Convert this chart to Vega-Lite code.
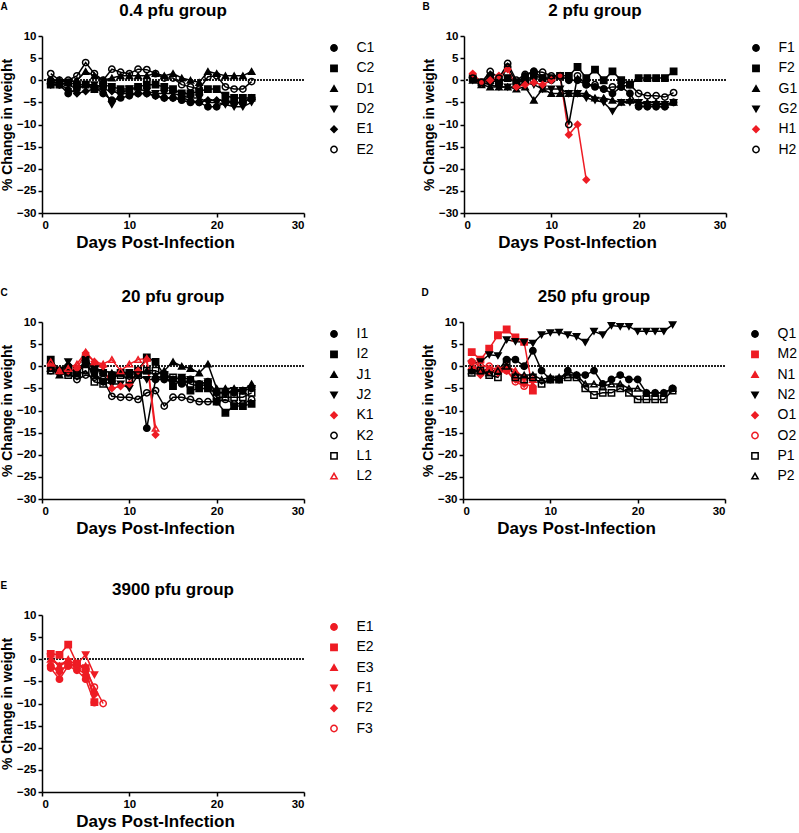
{
"$schema":"https://vega.github.io/schema/vega-lite/v6.json",
"padding":{"left":0,"top":2,"right":0,"bottom":3},
"config":{
"font":"Liberation Sans",
"view":{"stroke":null},
"axis":{"grid":false,"domainColor":"black","domainWidth":1.5,"tickColor":"black","tickWidth":1.5,"tickSize":4,"labelColor":"black","labelFontSize":11.5,"labelFontWeight":"bold","labelFont":"Liberation Sans","titleFont":"Liberation Sans","titleFontWeight":"bold","titleColor":"black","labelPadding":2,"labelOverlap":false},
"axisY":{"titleFontSize":14,"titlePadding":2},
"axisX":{"titleFontSize":17,"titlePadding":4,"titleX":113},
"legend":{"labelFontSize":14,"labelFont":"Liberation Sans","labelColor":"black","symbolSize":40,"rowPadding":6.3,"offset":18,"padding":5,"labelOffset":15.5,"symbolStrokeWidth":1.5},
"title":{"font":"Liberation Sans","fontSize":17,"fontWeight":"bold","color":"black","offset":10}
},
"datasets":{
"A":[
{"s":"C1","d":1,"v":0},{"s":"C1","d":2,"v":-1},{"s":"C1","d":3,"v":-3},{"s":"C1","d":4,"v":-2},{"s":"C1","d":5,"v":-1},{"s":"C1","d":6,"v":-1.5},{"s":"C1","d":7,"v":-3},{"s":"C1","d":8,"v":-4.5},{"s":"C1","d":9,"v":-4},{"s":"C1","d":10,"v":-3.5},{"s":"C1","d":11,"v":-3},{"s":"C1","d":12,"v":-3},{"s":"C1","d":13,"v":-3.5},{"s":"C1","d":14,"v":-4},{"s":"C1","d":15,"v":-4},{"s":"C1","d":16,"v":-4.5},{"s":"C1","d":17,"v":-5},{"s":"C1","d":18,"v":-5},{"s":"C1","d":19,"v":-6},{"s":"C1","d":20,"v":-6},{"s":"C1","d":21,"v":-5},{"s":"C1","d":22,"v":-5},{"s":"C1","d":23,"v":-5},{"s":"C1","d":24,"v":-4},
{"s":"C2","d":1,"v":-1},{"s":"C2","d":2,"v":-1},{"s":"C2","d":3,"v":-0.5},{"s":"C2","d":4,"v":-1},{"s":"C2","d":5,"v":-1},{"s":"C2","d":6,"v":-2},{"s":"C2","d":7,"v":-1},{"s":"C2","d":8,"v":-1.5},{"s":"C2","d":9,"v":-2},{"s":"C2","d":10,"v":-2},{"s":"C2","d":11,"v":-1.5},{"s":"C2","d":12,"v":-1},{"s":"C2","d":13,"v":-1},{"s":"C2","d":14,"v":-1.5},{"s":"C2","d":15,"v":-2},{"s":"C2","d":16,"v":-3},{"s":"C2","d":17,"v":-3},{"s":"C2","d":18,"v":-2.5},{"s":"C2","d":19,"v":-2},{"s":"C2","d":20,"v":-2},{"s":"C2","d":21,"v":-3.5},{"s":"C2","d":22,"v":-4},{"s":"C2","d":23,"v":-4},{"s":"C2","d":24,"v":-4},
{"s":"D1","d":1,"v":0},{"s":"D1","d":2,"v":0},{"s":"D1","d":3,"v":-0.5},{"s":"D1","d":4,"v":0},{"s":"D1","d":5,"v":2},{"s":"D1","d":6,"v":1},{"s":"D1","d":7,"v":0},{"s":"D1","d":8,"v":0.5},{"s":"D1","d":9,"v":1},{"s":"D1","d":10,"v":1},{"s":"D1","d":11,"v":1},{"s":"D1","d":12,"v":1},{"s":"D1","d":13,"v":1.5},{"s":"D1","d":14,"v":1},{"s":"D1","d":15,"v":1.5},{"s":"D1","d":16,"v":0.5},{"s":"D1","d":17,"v":0},{"s":"D1","d":18,"v":-0.5},{"s":"D1","d":19,"v":2},{"s":"D1","d":20,"v":1.5},{"s":"D1","d":21,"v":1},{"s":"D1","d":22,"v":1},{"s":"D1","d":23,"v":1},{"s":"D1","d":24,"v":2},
{"s":"D2","d":1,"v":-0.5},{"s":"D2","d":2,"v":-0.5},{"s":"D2","d":3,"v":-1},{"s":"D2","d":4,"v":-2},{"s":"D2","d":5,"v":-1},{"s":"D2","d":6,"v":-1},{"s":"D2","d":7,"v":-1.5},{"s":"D2","d":8,"v":-5.5},{"s":"D2","d":9,"v":-3},{"s":"D2","d":10,"v":-2},{"s":"D2","d":11,"v":-2},{"s":"D2","d":12,"v":-2.5},{"s":"D2","d":13,"v":-3},{"s":"D2","d":14,"v":-3},{"s":"D2","d":15,"v":-3},{"s":"D2","d":16,"v":-3.5},{"s":"D2","d":17,"v":-4},{"s":"D2","d":18,"v":-4},{"s":"D2","d":19,"v":-5},{"s":"D2","d":20,"v":-5},{"s":"D2","d":21,"v":-5.5},{"s":"D2","d":22,"v":-6},{"s":"D2","d":23,"v":-6},{"s":"D2","d":24,"v":-5},
{"s":"E1","d":1,"v":-1},{"s":"E1","d":2,"v":-1},{"s":"E1","d":3,"v":-2},{"s":"E1","d":4,"v":-3},{"s":"E1","d":5,"v":-2.5},{"s":"E1","d":6,"v":-2},{"s":"E1","d":7,"v":-2},{"s":"E1","d":8,"v":-2.5},{"s":"E1","d":9,"v":-3},{"s":"E1","d":10,"v":-3},{"s":"E1","d":11,"v":-3},{"s":"E1","d":12,"v":-3},{"s":"E1","d":13,"v":-3.5},{"s":"E1","d":14,"v":-4},{"s":"E1","d":15,"v":-4},{"s":"E1","d":16,"v":-4},{"s":"E1","d":17,"v":-4.5},{"s":"E1","d":18,"v":-5},{"s":"E1","d":19,"v":-4.5},{"s":"E1","d":20,"v":-4.5},{"s":"E1","d":21,"v":-4.5},{"s":"E1","d":22,"v":-5},{"s":"E1","d":23,"v":-5},{"s":"E1","d":24,"v":-4},
{"s":"E2","d":1,"v":1.5},{"s":"E2","d":2,"v":0},{"s":"E2","d":3,"v":0},{"s":"E2","d":4,"v":1},{"s":"E2","d":5,"v":4},{"s":"E2","d":6,"v":1.5},{"s":"E2","d":7,"v":0},{"s":"E2","d":8,"v":2.5},{"s":"E2","d":9,"v":1.8},{"s":"E2","d":10,"v":1.5},{"s":"E2","d":11,"v":2.5},{"s":"E2","d":12,"v":2.4},{"s":"E2","d":13,"v":1.5},{"s":"E2","d":14,"v":0.5},{"s":"E2","d":15,"v":0.5},{"s":"E2","d":16,"v":-1},{"s":"E2","d":17,"v":-1.5},{"s":"E2","d":18,"v":-2},{"s":"E2","d":19,"v":0.8},{"s":"E2","d":20,"v":1},{"s":"E2","d":21,"v":-1.5},{"s":"E2","d":22,"v":-2},{"s":"E2","d":23,"v":-2},{"s":"E2","d":24,"v":-0.3}
],
"B":[
{"s":"F1","d":1,"v":0.5},{"s":"F1","d":2,"v":-0.5},{"s":"F1","d":3,"v":1},{"s":"F1","d":4,"v":-0.5},{"s":"F1","d":5,"v":3},{"s":"F1","d":6,"v":-0.5},{"s":"F1","d":7,"v":1},{"s":"F1","d":8,"v":2},{"s":"F1","d":9,"v":0.5},{"s":"F1","d":10,"v":0},{"s":"F1","d":11,"v":1},{"s":"F1","d":12,"v":0},{"s":"F1","d":13,"v":0},{"s":"F1","d":14,"v":-1},{"s":"F1","d":15,"v":-1.5},{"s":"F1","d":16,"v":-2},{"s":"F1","d":17,"v":-3},{"s":"F1","d":18,"v":-1.5},{"s":"F1","d":19,"v":-3},{"s":"F1","d":20,"v":-6},{"s":"F1","d":21,"v":-6},{"s":"F1","d":22,"v":-6},{"s":"F1","d":23,"v":-6},{"s":"F1","d":24,"v":-5},
{"s":"F2","d":1,"v":0.5},{"s":"F2","d":2,"v":-0.5},{"s":"F2","d":3,"v":0},{"s":"F2","d":4,"v":-0.5},{"s":"F2","d":5,"v":0.5},{"s":"F2","d":6,"v":-0.5},{"s":"F2","d":7,"v":0},{"s":"F2","d":8,"v":1},{"s":"F2","d":9,"v":0.5},{"s":"F2","d":10,"v":0.5},{"s":"F2","d":11,"v":1},{"s":"F2","d":12,"v":1},{"s":"F2","d":13,"v":3},{"s":"F2","d":14,"v":0.5},{"s":"F2","d":15,"v":2.4},{"s":"F2","d":16,"v":0},{"s":"F2","d":17,"v":2},{"s":"F2","d":18,"v":0},{"s":"F2","d":19,"v":-1},{"s":"F2","d":20,"v":0.5},{"s":"F2","d":21,"v":0.5},{"s":"F2","d":22,"v":0.5},{"s":"F2","d":23,"v":0.5},{"s":"F2","d":24,"v":2},
{"s":"G1","d":1,"v":0},{"s":"G1","d":2,"v":-1},{"s":"G1","d":3,"v":-1.5},{"s":"G1","d":4,"v":-1.5},{"s":"G1","d":5,"v":-1.5},{"s":"G1","d":6,"v":-2},{"s":"G1","d":7,"v":-1.5},{"s":"G1","d":8,"v":-4.5},{"s":"G1","d":9,"v":-2},{"s":"G1","d":10,"v":-3},{"s":"G1","d":11,"v":-3},{"s":"G1","d":12,"v":-3},{"s":"G1","d":13,"v":-3},{"s":"G1","d":14,"v":-3},{"s":"G1","d":15,"v":-4},{"s":"G1","d":16,"v":-4},{"s":"G1","d":17,"v":-4.5},{"s":"G1","d":18,"v":-5},{"s":"G1","d":19,"v":-4.5},{"s":"G1","d":20,"v":-5},{"s":"G1","d":21,"v":-5},{"s":"G1","d":22,"v":-5},{"s":"G1","d":23,"v":-5.5},{"s":"G1","d":24,"v":-5},
{"s":"G2","d":1,"v":0},{"s":"G2","d":2,"v":-0.5},{"s":"G2","d":3,"v":-1},{"s":"G2","d":4,"v":-1.5},{"s":"G2","d":5,"v":-1.5},{"s":"G2","d":6,"v":-1.5},{"s":"G2","d":7,"v":-0.5},{"s":"G2","d":8,"v":-1},{"s":"G2","d":9,"v":-2},{"s":"G2","d":10,"v":-2},{"s":"G2","d":11,"v":-2},{"s":"G2","d":12,"v":-3},{"s":"G2","d":13,"v":-3},{"s":"G2","d":14,"v":-4},{"s":"G2","d":15,"v":-4.5},{"s":"G2","d":16,"v":-5},{"s":"G2","d":17,"v":-7},{"s":"G2","d":18,"v":-5},{"s":"G2","d":19,"v":-5},{"s":"G2","d":20,"v":-5},{"s":"G2","d":21,"v":-5.5},{"s":"G2","d":22,"v":-5.5},{"s":"G2","d":23,"v":-5.5},{"s":"G2","d":24,"v":-5},
{"s":"H1","d":1,"v":1.5},{"s":"H1","d":2,"v":-0.5},{"s":"H1","d":3,"v":0},{"s":"H1","d":4,"v":1},{"s":"H1","d":5,"v":2.5},{"s":"H1","d":6,"v":-1.5},{"s":"H1","d":7,"v":-1},{"s":"H1","d":8,"v":-0.5},{"s":"H1","d":9,"v":-1},{"s":"H1","d":10,"v":0},{"s":"H1","d":11,"v":1},{"s":"H1","d":12,"v":-12.3},{"s":"H1","d":13,"v":-10},{"s":"H1","d":14,"v":-22.5},
{"s":"H2","d":1,"v":0.5},{"s":"H2","d":2,"v":-0.5},{"s":"H2","d":3,"v":2},{"s":"H2","d":4,"v":0.5},{"s":"H2","d":5,"v":3.8},{"s":"H2","d":6,"v":0},{"s":"H2","d":7,"v":1.3},{"s":"H2","d":8,"v":2},{"s":"H2","d":9,"v":1.8},{"s":"H2","d":10,"v":1},{"s":"H2","d":11,"v":1},{"s":"H2","d":12,"v":-10},{"s":"H2","d":13,"v":1},{"s":"H2","d":14,"v":-1},{"s":"H2","d":15,"v":-1},{"s":"H2","d":16,"v":-2},{"s":"H2","d":17,"v":-1.5},{"s":"H2","d":18,"v":-1.5},{"s":"H2","d":19,"v":-1},{"s":"H2","d":20,"v":-3},{"s":"H2","d":21,"v":-3.5},{"s":"H2","d":22,"v":-3.5},{"s":"H2","d":23,"v":-3.8},{"s":"H2","d":24,"v":-2.8}
],
"C":[
{"s":"I1","d":1,"v":-0.5},{"s":"I1","d":2,"v":-1.5},{"s":"I1","d":3,"v":0},{"s":"I1","d":4,"v":-1.5},{"s":"I1","d":5,"v":0.5},{"s":"I1","d":6,"v":-1.5},{"s":"I1","d":7,"v":-3.5},{"s":"I1","d":8,"v":-2},{"s":"I1","d":9,"v":-1.5},{"s":"I1","d":10,"v":-1.5},{"s":"I1","d":11,"v":-1},{"s":"I1","d":12,"v":-14},{"s":"I1","d":13,"v":-3},{"s":"I1","d":14,"v":-3},{"s":"I1","d":15,"v":-3},{"s":"I1","d":16,"v":-4},{"s":"I1","d":17,"v":-3},{"s":"I1","d":18,"v":-4},{"s":"I1","d":19,"v":-3.5},{"s":"I1","d":20,"v":-6},{"s":"I1","d":21,"v":-6},{"s":"I1","d":22,"v":-6},{"s":"I1","d":23,"v":-5.5},{"s":"I1","d":24,"v":-5},
{"s":"I2","d":1,"v":1.5},{"s":"I2","d":2,"v":-1},{"s":"I2","d":3,"v":-0.5},{"s":"I2","d":4,"v":-1.5},{"s":"I2","d":5,"v":1.5},{"s":"I2","d":6,"v":-0.5},{"s":"I2","d":7,"v":-1.5},{"s":"I2","d":8,"v":-3},{"s":"I2","d":9,"v":-1.5},{"s":"I2","d":10,"v":-1.5},{"s":"I2","d":11,"v":-1},{"s":"I2","d":12,"v":2},{"s":"I2","d":13,"v":1},{"s":"I2","d":14,"v":-2},{"s":"I2","d":15,"v":-4.5},{"s":"I2","d":16,"v":-3},{"s":"I2","d":17,"v":-5.5},{"s":"I2","d":18,"v":-5},{"s":"I2","d":19,"v":-5},{"s":"I2","d":20,"v":-8},{"s":"I2","d":21,"v":-10.5},{"s":"I2","d":22,"v":-9},{"s":"I2","d":23,"v":-9},{"s":"I2","d":24,"v":-8.5},
{"s":"J1","d":1,"v":-0.5},{"s":"J1","d":2,"v":-2},{"s":"J1","d":3,"v":-1.5},{"s":"J1","d":4,"v":-1.5},{"s":"J1","d":5,"v":1.5},{"s":"J1","d":6,"v":-0.5},{"s":"J1","d":7,"v":-1},{"s":"J1","d":8,"v":-1.5},{"s":"J1","d":9,"v":-1.5},{"s":"J1","d":10,"v":-2},{"s":"J1","d":11,"v":-1.5},{"s":"J1","d":12,"v":-1},{"s":"J1","d":13,"v":-2},{"s":"J1","d":14,"v":-1},{"s":"J1","d":15,"v":1},{"s":"J1","d":16,"v":0},{"s":"J1","d":17,"v":-0.5},{"s":"J1","d":18,"v":-1.5},{"s":"J1","d":19,"v":0.5},{"s":"J1","d":20,"v":-5},{"s":"J1","d":21,"v":-5},{"s":"J1","d":22,"v":-5},{"s":"J1","d":23,"v":-5.5},{"s":"J1","d":24,"v":-4},
{"s":"J2","d":1,"v":0},{"s":"J2","d":2,"v":-1.5},{"s":"J2","d":3,"v":1},{"s":"J2","d":4,"v":-1},{"s":"J2","d":5,"v":0.5},{"s":"J2","d":6,"v":-2},{"s":"J2","d":7,"v":-3.5},{"s":"J2","d":8,"v":-4},{"s":"J2","d":9,"v":-4},{"s":"J2","d":10,"v":-5},{"s":"J2","d":11,"v":-2},{"s":"J2","d":12,"v":-3},{"s":"J2","d":13,"v":-3},{"s":"J2","d":14,"v":-2},{"s":"J2","d":15,"v":-3},{"s":"J2","d":16,"v":-2.5},{"s":"J2","d":17,"v":-3},{"s":"J2","d":18,"v":-4},{"s":"J2","d":19,"v":-3.5},{"s":"J2","d":20,"v":-6},{"s":"J2","d":21,"v":-6},{"s":"J2","d":22,"v":-5.5},{"s":"J2","d":23,"v":-5.5},{"s":"J2","d":24,"v":-5},
{"s":"K1","d":1,"v":0},{"s":"K1","d":2,"v":-1},{"s":"K1","d":3,"v":-1},{"s":"K1","d":4,"v":-0.5},{"s":"K1","d":5,"v":3},{"s":"K1","d":6,"v":1},{"s":"K1","d":7,"v":0},{"s":"K1","d":8,"v":-5},{"s":"K1","d":9,"v":-4.5},{"s":"K1","d":10,"v":-4},{"s":"K1","d":11,"v":-1},{"s":"K1","d":12,"v":1.5},{"s":"K1","d":13,"v":-15.5},
{"s":"K2","d":1,"v":-1},{"s":"K2","d":2,"v":-1},{"s":"K2","d":3,"v":-1.5},{"s":"K2","d":4,"v":-3},{"s":"K2","d":5,"v":-2},{"s":"K2","d":6,"v":-2.5},{"s":"K2","d":7,"v":-3},{"s":"K2","d":8,"v":-6.8},{"s":"K2","d":9,"v":-7},{"s":"K2","d":10,"v":-7},{"s":"K2","d":11,"v":-7.5},{"s":"K2","d":12,"v":-6},{"s":"K2","d":13,"v":-5.5},{"s":"K2","d":14,"v":-9},{"s":"K2","d":15,"v":-7},{"s":"K2","d":16,"v":-7},{"s":"K2","d":17,"v":-7.5},{"s":"K2","d":18,"v":-8},{"s":"K2","d":19,"v":-8},{"s":"K2","d":20,"v":-8},{"s":"K2","d":21,"v":-7.5},{"s":"K2","d":22,"v":-8.5},{"s":"K2","d":23,"v":-8.5},{"s":"K2","d":24,"v":-7.5},
{"s":"L1","d":1,"v":-1},{"s":"L1","d":2,"v":-1},{"s":"L1","d":3,"v":-2},{"s":"L1","d":4,"v":-2},{"s":"L1","d":5,"v":-1},{"s":"L1","d":6,"v":-3.5},{"s":"L1","d":7,"v":-4},{"s":"L1","d":8,"v":-2},{"s":"L1","d":9,"v":-2},{"s":"L1","d":10,"v":-3},{"s":"L1","d":11,"v":-2},{"s":"L1","d":12,"v":-1},{"s":"L1","d":13,"v":-1},{"s":"L1","d":14,"v":-2},{"s":"L1","d":15,"v":-2.5},{"s":"L1","d":16,"v":-3},{"s":"L1","d":17,"v":-4},{"s":"L1","d":18,"v":-4.5},{"s":"L1","d":19,"v":-4},{"s":"L1","d":20,"v":-7},{"s":"L1","d":21,"v":-7},{"s":"L1","d":22,"v":-7},{"s":"L1","d":23,"v":-7},{"s":"L1","d":24,"v":-6},
{"s":"L2","d":1,"v":1},{"s":"L2","d":2,"v":-1},{"s":"L2","d":3,"v":-0.5},{"s":"L2","d":4,"v":0.5},{"s":"L2","d":5,"v":3.2},{"s":"L2","d":6,"v":1},{"s":"L2","d":7,"v":0.5},{"s":"L2","d":8,"v":1.5},{"s":"L2","d":9,"v":-1},{"s":"L2","d":10,"v":0.5},{"s":"L2","d":11,"v":1.5},{"s":"L2","d":12,"v":1.8},{"s":"L2","d":13,"v":-14}
],
"D":[
{"s":"Q1","d":1,"v":-1},{"s":"Q1","d":2,"v":-1},{"s":"Q1","d":3,"v":-1},{"s":"Q1","d":4,"v":-1},{"s":"Q1","d":5,"v":1.5},{"s":"Q1","d":6,"v":1.5},{"s":"Q1","d":7,"v":0},{"s":"Q1","d":8,"v":3.5},{"s":"Q1","d":9,"v":-1},{"s":"Q1","d":10,"v":-3},{"s":"Q1","d":11,"v":-3},{"s":"Q1","d":12,"v":-1},{"s":"Q1","d":13,"v":-2},{"s":"Q1","d":14,"v":-2},{"s":"Q1","d":15,"v":-1},{"s":"Q1","d":16,"v":-4},{"s":"Q1","d":17,"v":-3},{"s":"Q1","d":18,"v":-2},{"s":"Q1","d":19,"v":-3},{"s":"Q1","d":20,"v":-3},{"s":"Q1","d":21,"v":-6},{"s":"Q1","d":22,"v":-6},{"s":"Q1","d":23,"v":-6},{"s":"Q1","d":24,"v":-5},
{"s":"M2","d":1,"v":3.2},{"s":"M2","d":2,"v":1.5},{"s":"M2","d":3,"v":4},{"s":"M2","d":4,"v":7},{"s":"M2","d":5,"v":8.3},{"s":"M2","d":6,"v":6.5},{"s":"M2","d":7,"v":5.5},{"s":"M2","d":8,"v":-5.5},
{"s":"N1","d":1,"v":0},{"s":"N1","d":2,"v":-1},{"s":"N1","d":3,"v":-0.5},{"s":"N1","d":4,"v":-0.5},{"s":"N1","d":5,"v":0},{"s":"N1","d":6,"v":-1},{"s":"N1","d":7,"v":-2.5},{"s":"N1","d":8,"v":-3},
{"s":"N2","d":1,"v":0.5},{"s":"N2","d":2,"v":1},{"s":"N2","d":3,"v":2.6},{"s":"N2","d":4,"v":2.4},{"s":"N2","d":5,"v":6},{"s":"N2","d":6,"v":5.6},{"s":"N2","d":7,"v":5.4},{"s":"N2","d":8,"v":5.2},{"s":"N2","d":9,"v":7.1},{"s":"N2","d":10,"v":7.6},{"s":"N2","d":11,"v":7.7},{"s":"N2","d":12,"v":7.1},{"s":"N2","d":13,"v":6.7},{"s":"N2","d":14,"v":5.4},{"s":"N2","d":15,"v":7.9},{"s":"N2","d":16,"v":7.1},{"s":"N2","d":17,"v":9.2},{"s":"N2","d":18,"v":9},{"s":"N2","d":19,"v":9},{"s":"N2","d":20,"v":7.9},{"s":"N2","d":21,"v":7.9},{"s":"N2","d":22,"v":7.9},{"s":"N2","d":23,"v":7.9},{"s":"N2","d":24,"v":9.4},
{"s":"O1","d":1,"v":1},{"s":"O1","d":2,"v":-2},{"s":"O1","d":3,"v":-1},{"s":"O1","d":4,"v":-1.5},{"s":"O1","d":5,"v":-1},{"s":"O1","d":6,"v":-3},{"s":"O1","d":7,"v":-4},{"s":"O1","d":8,"v":-4.5},
{"s":"O2","d":1,"v":1},{"s":"O2","d":2,"v":0},{"s":"O2","d":3,"v":0},{"s":"O2","d":4,"v":-1},{"s":"O2","d":5,"v":-1},{"s":"O2","d":6,"v":-3.5},{"s":"O2","d":7,"v":-4.5},
{"s":"P1","d":1,"v":-1.5},{"s":"P1","d":2,"v":-1},{"s":"P1","d":3,"v":-2},{"s":"P1","d":4,"v":-2.5},{"s":"P1","d":5,"v":1},{"s":"P1","d":6,"v":-2.5},{"s":"P1","d":7,"v":-3},{"s":"P1","d":8,"v":-2.5},{"s":"P1","d":9,"v":-4},{"s":"P1","d":10,"v":-3},{"s":"P1","d":11,"v":-3},{"s":"P1","d":12,"v":-2.5},{"s":"P1","d":13,"v":-2.5},{"s":"P1","d":14,"v":-5},{"s":"P1","d":15,"v":-6.5},{"s":"P1","d":16,"v":-6},{"s":"P1","d":17,"v":-6},{"s":"P1","d":18,"v":-5},{"s":"P1","d":19,"v":-6},{"s":"P1","d":20,"v":-7.5},{"s":"P1","d":21,"v":-7.5},{"s":"P1","d":22,"v":-7.5},{"s":"P1","d":23,"v":-7.5},{"s":"P1","d":24,"v":-5.5},
{"s":"P2","d":1,"v":-1},{"s":"P2","d":2,"v":-1},{"s":"P2","d":3,"v":-1.5},{"s":"P2","d":4,"v":-1},{"s":"P2","d":5,"v":0},{"s":"P2","d":6,"v":-2},{"s":"P2","d":7,"v":-2},{"s":"P2","d":8,"v":-2},{"s":"P2","d":9,"v":-3},{"s":"P2","d":10,"v":-2.5},{"s":"P2","d":11,"v":-2.5},{"s":"P2","d":12,"v":-2},{"s":"P2","d":13,"v":-2},{"s":"P2","d":14,"v":-4},{"s":"P2","d":15,"v":-4},{"s":"P2","d":16,"v":-4.5},{"s":"P2","d":17,"v":-4},{"s":"P2","d":18,"v":-4},{"s":"P2","d":19,"v":-5},{"s":"P2","d":20,"v":-5},{"s":"P2","d":21,"v":-6},{"s":"P2","d":22,"v":-6},{"s":"P2","d":23,"v":-6},{"s":"P2","d":24,"v":-5}
],
"E":[
{"s":"E1","d":1,"v":-2},{"s":"E1","d":2,"v":-4.5},{"s":"E1","d":3,"v":-1.5},{"s":"E1","d":4,"v":-2.5},{"s":"E1","d":5,"v":-4.5},{"s":"E1","d":6,"v":-9.8},
{"s":"E2","d":1,"v":1.2},{"s":"E2","d":2,"v":1},{"s":"E2","d":3,"v":3.3},{"s":"E2","d":4,"v":-1},{"s":"E2","d":5,"v":-2},{"s":"E2","d":6,"v":-9.7},
{"s":"E3","d":1,"v":0},{"s":"E3","d":2,"v":-1.5},{"s":"E3","d":3,"v":0},{"s":"E3","d":4,"v":-1.5},{"s":"E3","d":5,"v":-1.5},{"s":"E3","d":6,"v":-7},
{"s":"F1","d":1,"v":0.5},{"s":"F1","d":2,"v":-1.5},{"s":"F1","d":3,"v":-0.5},{"s":"F1","d":4,"v":-1},{"s":"F1","d":5,"v":1},{"s":"F1","d":6,"v":-3.5},
{"s":"F2","d":1,"v":-1.5},{"s":"F2","d":2,"v":-3},{"s":"F2","d":3,"v":-1},{"s":"F2","d":4,"v":-2},{"s":"F2","d":5,"v":-3.5},{"s":"F2","d":6,"v":-8},
{"s":"F3","d":1,"v":-1.5},{"s":"F3","d":2,"v":-2.5},{"s":"F3","d":3,"v":-1.5},{"s":"F3","d":4,"v":-1},{"s":"F3","d":5,"v":-2.5},{"s":"F3","d":6,"v":-6.3},{"s":"F3","d":7,"v":-10}
]
},
"resolve":{"scale":{"stroke":"independent","fill":"independent","shape":"independent"},"legend":{"stroke":"independent","fill":"independent","shape":"independent"}},
"spacing":37,
"vconcat":[
{"hconcat":[
{"title":{"text":"A","anchor":"start","frame":"bounds","fontSize":10,"offset":0,"dy":10},"resolve":{"scale":{"stroke":"independent","fill":"independent","shape":"independent"}},
"vconcat":[{"data":{"name":"A"},"width":262,"height":177,"title":"0.4 pfu group",
"layer":[
{"mark":{"type":"rule","strokeDash":[1.5,1.5],"strokeWidth":0.7,"color":"#222222"},"encoding":{"y":{"datum":0,"type":"quantitative","title":"% Change in weight","scale":{"domain":[-30,10],"nice":false},"axis":{"values":[-30,-25,-20,-15,-10,-5,0,5,10]}}}},
{"mark":{"type":"line","strokeWidth":1.5},"encoding":{"x":{"field":"d","type":"quantitative","title":"Days Post-Infection","scale":{"domain":[0,30],"nice":false},"axis":{"values":[0,10,20,30]}},"y":{"field":"v","type":"quantitative","title":"% Change in weight","scale":{"domain":[-30,10],"nice":false},"axis":{"values":[-30,-25,-20,-15,-10,-5,0,5,10]}},"stroke":{"field":"s","type":"nominal","title":null,"scale":{"domain":["C1","C2","D1","D2","E1","E2"],"range":["#000000","#000000","#000000","#000000","#000000","#000000"]}}}},
{"mark":{"type":"point","size":40,"strokeWidth":1.5,"opacity":1},"encoding":{"x":{"field":"d","type":"quantitative","title":"Days Post-Infection","axis":{"values":[0,10,20,30]}},"y":{"field":"v","type":"quantitative","title":"% Change in weight","axis":{"values":[-30,-25,-20,-15,-10,-5,0,5,10]}},"stroke":{"field":"s","type":"nominal","title":null,"scale":{"domain":["C1","C2","D1","D2","E1","E2"],"range":["#000000","#000000","#000000","#000000","#000000","#000000"]}},"fill":{"field":"s","type":"nominal","title":null,"scale":{"domain":["C1","C2","D1","D2","E1","E2"],"range":["#000000","#000000","#000000","#000000","#000000","transparent"]},"legend":{"encode":{"symbols":{"update":{"shape":{"signal":"['M-3,0H3M1,0A1,1,0,1,1,-1,0A1,1,0,1,1,1,0Z','M-3,0H3M-1,-1H1V1H-1Z','M-3,0H3M0,-1.15L1.15,0.85H-1.15Z','M-3,0H3M0,1.15L1.15,-0.85H-1.15Z','M-3,0H3M0,-1.25L1.25,0L0,1.25L-1.25,0Z','M-3,0H3M1,0A1,1,0,1,1,-1,0A1,1,0,1,1,1,0Z'][indexof(['C1','C2','D1','D2','E1','E2'],datum.value)]"}}}}}},"shape":{"field":"s","type":"nominal","title":null,"scale":{"domain":["C1","C2","D1","D2","E1","E2"],"range":["circle","square","triangle-up","triangle-down","diamond","circle"]}}}}
]}]},
{"title":{"text":"B","anchor":"start","frame":"bounds","fontSize":10,"offset":0,"dy":10},"resolve":{"scale":{"stroke":"independent","fill":"independent","shape":"independent"}},
"vconcat":[{"data":{"name":"B"},"width":262,"height":177,"title":"2 pfu group",
"layer":[
{"mark":{"type":"rule","strokeDash":[1.5,1.5],"strokeWidth":0.7,"color":"#222222"},"encoding":{"y":{"datum":0,"type":"quantitative","title":"% Change in weight","scale":{"domain":[-30,10],"nice":false},"axis":{"values":[-30,-25,-20,-15,-10,-5,0,5,10]}}}},
{"mark":{"type":"line","strokeWidth":1.5},"encoding":{"x":{"field":"d","type":"quantitative","title":"Days Post-Infection","scale":{"domain":[0,30],"nice":false},"axis":{"values":[0,10,20,30]}},"y":{"field":"v","type":"quantitative","title":"% Change in weight","scale":{"domain":[-30,10],"nice":false},"axis":{"values":[-30,-25,-20,-15,-10,-5,0,5,10]}},"stroke":{"field":"s","type":"nominal","title":null,"scale":{"domain":["F1","F2","G1","G2","H1","H2"],"range":["#000000","#000000","#000000","#000000","#ee1c24","#000000"]}}}},
{"mark":{"type":"point","size":40,"strokeWidth":1.5,"opacity":1},"encoding":{"x":{"field":"d","type":"quantitative","title":"Days Post-Infection","axis":{"values":[0,10,20,30]}},"y":{"field":"v","type":"quantitative","title":"% Change in weight","axis":{"values":[-30,-25,-20,-15,-10,-5,0,5,10]}},"stroke":{"field":"s","type":"nominal","title":null,"scale":{"domain":["F1","F2","G1","G2","H1","H2"],"range":["#000000","#000000","#000000","#000000","#ee1c24","#000000"]}},"fill":{"field":"s","type":"nominal","title":null,"scale":{"domain":["F1","F2","G1","G2","H1","H2"],"range":["#000000","#000000","#000000","#000000","#ee1c24","transparent"]},"legend":{"encode":{"symbols":{"update":{"shape":{"signal":"['M-3,0H3M1,0A1,1,0,1,1,-1,0A1,1,0,1,1,1,0Z','M-3,0H3M-1,-1H1V1H-1Z','M-3,0H3M0,-1.15L1.15,0.85H-1.15Z','M-3,0H3M0,1.15L1.15,-0.85H-1.15Z','M-3,0H3M0,-1.25L1.25,0L0,1.25L-1.25,0Z','M-3,0H3M1,0A1,1,0,1,1,-1,0A1,1,0,1,1,1,0Z'][indexof(['F1','F2','G1','G2','H1','H2'],datum.value)]"}}}}}},"shape":{"field":"s","type":"nominal","title":null,"scale":{"domain":["F1","F2","G1","G2","H1","H2"],"range":["circle","square","triangle-up","triangle-down","diamond","circle"]}}}}
]}]}
],"spacing":42,"resolve":{"scale":{"stroke":"independent","fill":"independent","shape":"independent"},"legend":{"stroke":"independent","fill":"independent","shape":"independent"}}},
{"vconcat":[
{"hconcat":[
{"title":{"text":"C","anchor":"start","frame":"bounds","fontSize":10,"offset":0,"dy":10},"resolve":{"scale":{"stroke":"independent","fill":"independent","shape":"independent"}},
"vconcat":[{"data":{"name":"C"},"width":262,"height":177,"title":"20 pfu group",
"layer":[
{"mark":{"type":"rule","strokeDash":[1.5,1.5],"strokeWidth":0.7,"color":"#222222"},"encoding":{"y":{"datum":0,"type":"quantitative","title":"% Change in weight","scale":{"domain":[-30,10],"nice":false},"axis":{"values":[-30,-25,-20,-15,-10,-5,0,5,10]}}}},
{"mark":{"type":"line","strokeWidth":1.5},"encoding":{"x":{"field":"d","type":"quantitative","title":"Days Post-Infection","scale":{"domain":[0,30],"nice":false},"axis":{"values":[0,10,20,30]}},"y":{"field":"v","type":"quantitative","title":"% Change in weight","scale":{"domain":[-30,10],"nice":false},"axis":{"values":[-30,-25,-20,-15,-10,-5,0,5,10]}},"stroke":{"field":"s","type":"nominal","title":null,"scale":{"domain":["I1","I2","J1","J2","K1","K2","L1","L2"],"range":["#000000","#000000","#000000","#000000","#ee1c24","#000000","#000000","#ee1c24"]}}}},
{"mark":{"type":"point","size":40,"strokeWidth":1.5,"opacity":1},"encoding":{"x":{"field":"d","type":"quantitative","title":"Days Post-Infection","axis":{"values":[0,10,20,30]}},"y":{"field":"v","type":"quantitative","title":"% Change in weight","axis":{"values":[-30,-25,-20,-15,-10,-5,0,5,10]}},"stroke":{"field":"s","type":"nominal","title":null,"scale":{"domain":["I1","I2","J1","J2","K1","K2","L1","L2"],"range":["#000000","#000000","#000000","#000000","#ee1c24","#000000","#000000","#ee1c24"]}},"fill":{"field":"s","type":"nominal","title":null,"scale":{"domain":["I1","I2","J1","J2","K1","K2","L1","L2"],"range":["#000000","#000000","#000000","#000000","#ee1c24","transparent","transparent","transparent"]},"legend":{"encode":{"symbols":{"update":{"shape":{"signal":"['M-3,0H3M1,0A1,1,0,1,1,-1,0A1,1,0,1,1,1,0Z','M-3,0H3M-1,-1H1V1H-1Z','M-3,0H3M0,-1.15L1.15,0.85H-1.15Z','M-3,0H3M0,1.15L1.15,-0.85H-1.15Z','M-3,0H3M0,-1.25L1.25,0L0,1.25L-1.25,0Z','M-3,0H3M1,0A1,1,0,1,1,-1,0A1,1,0,1,1,1,0Z','M-3,0H3M-1,-1H1V1H-1Z','M-3,0H3M0,-1.15L1.15,0.85H-1.15Z'][indexof(['I1','I2','J1','J2','K1','K2','L1','L2'],datum.value)]"}}}}}},"shape":{"field":"s","type":"nominal","title":null,"scale":{"domain":["I1","I2","J1","J2","K1","K2","L1","L2"],"range":["circle","square","triangle-up","triangle-down","diamond","circle","square","triangle-up"]}}}}
]}]},
{"title":{"text":"D","anchor":"start","frame":"bounds","fontSize":10,"offset":0,"dy":10},"resolve":{"scale":{"stroke":"independent","fill":"independent","shape":"independent"}},
"vconcat":[{"data":{"name":"D"},"width":262,"height":177,"title":"250 pfu group",
"layer":[
{"mark":{"type":"rule","strokeDash":[1.5,1.5],"strokeWidth":0.7,"color":"#222222"},"encoding":{"y":{"datum":0,"type":"quantitative","title":"% Change in weight","scale":{"domain":[-30,10],"nice":false},"axis":{"values":[-30,-25,-20,-15,-10,-5,0,5,10]}}}},
{"mark":{"type":"line","strokeWidth":1.5},"encoding":{"x":{"field":"d","type":"quantitative","title":"Days Post-Infection","scale":{"domain":[0,30],"nice":false},"axis":{"values":[0,10,20,30]}},"y":{"field":"v","type":"quantitative","title":"% Change in weight","scale":{"domain":[-30,10],"nice":false},"axis":{"values":[-30,-25,-20,-15,-10,-5,0,5,10]}},"stroke":{"field":"s","type":"nominal","title":null,"scale":{"domain":["Q1","M2","N1","N2","O1","O2","P1","P2"],"range":["#000000","#ee1c24","#ee1c24","#000000","#ee1c24","#ee1c24","#000000","#000000"]}}}},
{"mark":{"type":"point","size":40,"strokeWidth":1.5,"opacity":1},"encoding":{"x":{"field":"d","type":"quantitative","title":"Days Post-Infection","axis":{"values":[0,10,20,30]}},"y":{"field":"v","type":"quantitative","title":"% Change in weight","axis":{"values":[-30,-25,-20,-15,-10,-5,0,5,10]}},"stroke":{"field":"s","type":"nominal","title":null,"scale":{"domain":["Q1","M2","N1","N2","O1","O2","P1","P2"],"range":["#000000","#ee1c24","#ee1c24","#000000","#ee1c24","#ee1c24","#000000","#000000"]}},"fill":{"field":"s","type":"nominal","title":null,"scale":{"domain":["Q1","M2","N1","N2","O1","O2","P1","P2"],"range":["#000000","#ee1c24","#ee1c24","#000000","#ee1c24","transparent","transparent","transparent"]},"legend":{"encode":{"symbols":{"update":{"shape":{"signal":"['M-3,0H3M1,0A1,1,0,1,1,-1,0A1,1,0,1,1,1,0Z','M-3,0H3M-1,-1H1V1H-1Z','M-3,0H3M0,-1.15L1.15,0.85H-1.15Z','M-3,0H3M0,1.15L1.15,-0.85H-1.15Z','M-3,0H3M0,-1.25L1.25,0L0,1.25L-1.25,0Z','M-3,0H3M1,0A1,1,0,1,1,-1,0A1,1,0,1,1,1,0Z','M-3,0H3M-1,-1H1V1H-1Z','M-3,0H3M0,-1.15L1.15,0.85H-1.15Z'][indexof(['Q1','M2','N1','N2','O1','O2','P1','P2'],datum.value)]"}}}}}},"shape":{"field":"s","type":"nominal","title":null,"scale":{"domain":["Q1","M2","N1","N2","O1","O2","P1","P2"],"range":["circle","square","triangle-up","triangle-down","diamond","circle","square","triangle-up"]}}}}
]}]}
],"spacing":42,"resolve":{"scale":{"stroke":"independent","fill":"independent","shape":"independent"},"legend":{"stroke":"independent","fill":"independent","shape":"independent"}}},
{"title":{"text":"E","anchor":"start","frame":"bounds","fontSize":10,"offset":0,"dy":10},"resolve":{"scale":{"stroke":"independent","fill":"independent","shape":"independent"}},
"vconcat":[{"data":{"name":"E"},"width":262,"height":177,"title":"3900 pfu group",
"layer":[
{"mark":{"type":"rule","strokeDash":[1.5,1.5],"strokeWidth":0.7,"color":"#222222"},"encoding":{"y":{"datum":0,"type":"quantitative","title":"% Change in weight","scale":{"domain":[-30,10],"nice":false},"axis":{"values":[-30,-25,-20,-15,-10,-5,0,5,10]}}}},
{"mark":{"type":"line","strokeWidth":1.5},"encoding":{"x":{"field":"d","type":"quantitative","title":"Days Post-Infection","scale":{"domain":[0,30],"nice":false},"axis":{"values":[0,10,20,30]}},"y":{"field":"v","type":"quantitative","title":"% Change in weight","scale":{"domain":[-30,10],"nice":false},"axis":{"values":[-30,-25,-20,-15,-10,-5,0,5,10]}},"stroke":{"field":"s","type":"nominal","title":null,"scale":{"domain":["E1","E2","E3","F1","F2","F3"],"range":["#ee1c24","#ee1c24","#ee1c24","#ee1c24","#ee1c24","#ee1c24"]}}}},
{"mark":{"type":"point","size":40,"strokeWidth":1.5,"opacity":1},"encoding":{"x":{"field":"d","type":"quantitative","title":"Days Post-Infection","axis":{"values":[0,10,20,30]}},"y":{"field":"v","type":"quantitative","title":"% Change in weight","axis":{"values":[-30,-25,-20,-15,-10,-5,0,5,10]}},"stroke":{"field":"s","type":"nominal","title":null,"scale":{"domain":["E1","E2","E3","F1","F2","F3"],"range":["#ee1c24","#ee1c24","#ee1c24","#ee1c24","#ee1c24","#ee1c24"]}},"fill":{"field":"s","type":"nominal","title":null,"scale":{"domain":["E1","E2","E3","F1","F2","F3"],"range":["#ee1c24","#ee1c24","#ee1c24","#ee1c24","#ee1c24","transparent"]},"legend":{"encode":{"symbols":{"update":{"shape":{"signal":"['M-3,0H3M1,0A1,1,0,1,1,-1,0A1,1,0,1,1,1,0Z','M-3,0H3M-1,-1H1V1H-1Z','M-3,0H3M0,-1.15L1.15,0.85H-1.15Z','M-3,0H3M0,1.15L1.15,-0.85H-1.15Z','M-3,0H3M0,-1.25L1.25,0L0,1.25L-1.25,0Z','M-3,0H3M1,0A1,1,0,1,1,-1,0A1,1,0,1,1,1,0Z'][indexof(['E1','E2','E3','F1','F2','F3'],datum.value)]"}}}}}},"shape":{"field":"s","type":"nominal","title":null,"scale":{"domain":["E1","E2","E3","F1","F2","F3"],"range":["circle","square","triangle-up","triangle-down","diamond","circle"]}}}}
]}]}
],"spacing":44,"resolve":{"scale":{"stroke":"independent","fill":"independent","shape":"independent"},"legend":{"stroke":"independent","fill":"independent","shape":"independent"}}}
]
}
